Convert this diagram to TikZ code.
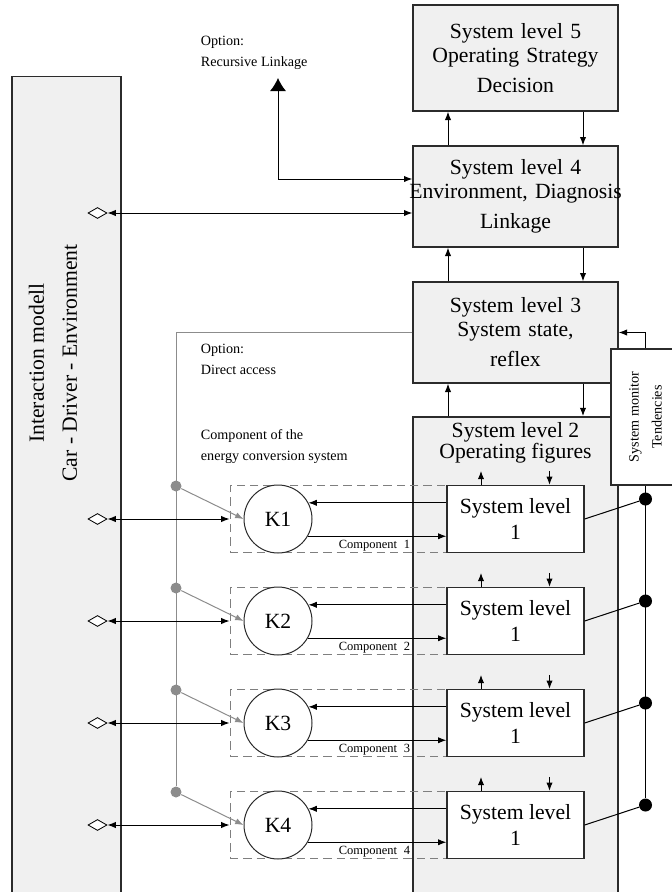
\documentclass[tikz,border=0pt]{standalone}
\usepackage{fontspec}
\setmainfont{Liberation Serif}
\usetikzlibrary{arrows.meta, positioning, calc, shapes.geometric}
\definecolor{boxfill}{HTML}{F0F0F0}
\definecolor{dotgray}{HTML}{8C8C8C}
\definecolor{dashgray}{HTML}{7F7F7F}
\definecolor{edge}{HTML}{2B2B2B}

\begin{document}
\begin{tikzpicture}[
  x=0.6pt, y=-0.6pt,
  >={Latex[length=5pt, width=3.8pt]},
  levelbox/.style={
    draw=edge, line width=0.8pt, fill=boxfill, text width=123pt,
    inner xsep=0pt, minimum height=60.6pt, align=center,
    font=\fontsize{13}{14.4}\selectfont
  },
  slonebox/.style={
    draw=edge, line width=0.8pt, fill=white, minimum width=82.2pt,
    minimum height=40.2pt, inner sep=0pt, align=center,
    font=\fontsize{13}{14.4}\selectfont
  },
  kcirc/.style={
    circle, draw=edge, line width=0.6pt, fill=white, minimum size=40.8pt,
    inner sep=0pt, font=\fontsize{13}{14.4}\selectfont
  },
  compbox/.style={
    draw=dashgray, dash pattern=on 5pt off 3pt, line width=0.6pt,
    minimum width=212.4pt, minimum height=40.2pt, inner sep=0pt
  },
  portdia/.style={
    diamond, draw, fill=white, line width=0.5pt, inner sep=0pt,
    minimum width=11.4pt, minimum height=6.6pt
  },
  gdot/.style={circle, fill=dotgray, inner sep=0pt, minimum size=6.6pt},
  bdot/.style={circle, fill=black, inner sep=0pt, minimum size=7.8pt},
  arr/.style={->, line width=0.6pt},
  biarr/.style={<->, line width=0.6pt},
  grayarr/.style={->, line width=0.6pt, dotgray},
  note/.style={font=\fontsize{8.5}{12.6}\selectfont, align=left, anchor=west},
  complabel/.style={font=\fontsize{7.5}{9}\selectfont, anchor=east, inner sep=1pt},
]

\useasboundingbox (0,0) rectangle (672,892);

% ---- Interaction model ----
\node[draw=edge, line width=0.8pt, fill=boxfill, minimum width=65.4pt,
  minimum height=496pt, inner sep=0pt] (model) at (66.5,490) {};
\node[rotate=90, align=center, font=\fontsize{13}{19.8}\selectfont]
  (modeltext) at (53,363) {Interaction modell\\Car - Driver - Environment};

% ---- System levels ----
\node[levelbox, minimum height=63.6pt] (sl5) at (515.5,58)
  {System level 5\\Operating Strategy\\[3.6pt]Decision};
\node[levelbox] (sl4) at (515.5,196.5)
  {System level 4\\\makebox[0pt]{Environment, Diagnosis}\\[3.6pt]Linkage};
\node[levelbox] (sl3) at (515.5,332.5)
  {System level 3\\System state,\\[3.6pt]reflex};
\node[levelbox, minimum height=290pt] (sl2) at (515.5,658.5) {};
\node[align=center, font=\fontsize{13}{12.6}\selectfont] (sl2text) at (515.5,443)
  {System level 2\\Operating figures};

% ---- System monitor ----
\node[draw=edge, line width=0.8pt, fill=white, minimum width=41.4pt,
  minimum height=81.6pt, inner sep=0pt] (mon) at (645.5,417) {};
\node[rotate=90, align=center, font=\fontsize{8.5}{13.8}\selectfont]
  (montext) at (mon) {System monitor\\Tendencies};

% ---- Components and level 1 ----
\foreach \i/\ypos in {1/519, 2/621, 3/723, 4/825} {
  \node[compbox] (comp\i) at (407,\ypos) {};
  \node[kcirc] (k\i) at (278,\ypos) {K\i};
  \node[slonebox] (slone\i) at (515.5,\ypos) {System level\\[1.2pt]1};
  \node[complabel] (clab\i) at (412,\ypos+27) {Component\hspace{4pt}\i};
  \node[portdia] (port\i) at (97.5,\ypos) {};
  \node[gdot] (g\i) at (176,\ypos-33) {};
  \node[bdot] (b\i) at (645.5,\ypos-20) {};
}
\node[portdia] (port0) at (97.5,213) {};

% Direct access line
\draw[dotgray, line width=0.6pt] (sl3.west) -| (g4);

% Links from the interaction model
\draw[biarr] (port0.east) -- (port0.east -| sl4.west);
\foreach \i in {1,...,4} {
  \draw[biarr] (port\i.east) -- (comp\i.west);
}

% Components <-> level 1
\foreach \i in {1,...,4} {
  \draw[grayarr] (g\i) -- (k\i.west);
  \draw[arr] (k\i.28 -| slone\i.west) -- (k\i.28);
  \draw[arr] (k\i.330) -- (k\i.330 -| slone\i.west);
  \draw[line width=0.6pt] (slone\i.east) -- (b\i);
  \draw[arr] ([xshift=-20.7pt]slone\i.north) -- ++(0,-14);
  \draw[arr] ([xshift=20.4pt, yshift=8.4pt]slone\i.north) -- ([xshift=20.4pt]slone\i.north);
}

% Between levels
\foreach \lo/\hi in {sl4/sl5, sl3/sl4, sl2/sl3} {
  \draw[arr] ([xshift=-40.5pt]\lo.north) -- ([xshift=-40.5pt]\hi.south);
  \draw[arr] ([xshift=40.5pt]\hi.south) -- ([xshift=40.5pt]\lo.north);
}

% Monitor
\draw[line width=0.6pt] (mon.south) -- (b4);
\draw[arr] (mon.north) |- (sl3.east);

% Recursive linkage
\coordinate (rec) at (278,78);
\draw[{Latex[length=7.8pt, width=9.6pt]}->, line width=0.6pt]
  (rec) |- ([yshift=10.5pt]sl4.west);

% ---- Notes ----
\node[note] (optrec) at (195,52.5) {Option:\\Recursive Linkage};
\node[note] (optdir) at (195,359.5) {Option:\\Direct access};
\node[note] (compnote) at (195,447) {Component of the\\energy conversion system};

\end{tikzpicture}
\end{document}
